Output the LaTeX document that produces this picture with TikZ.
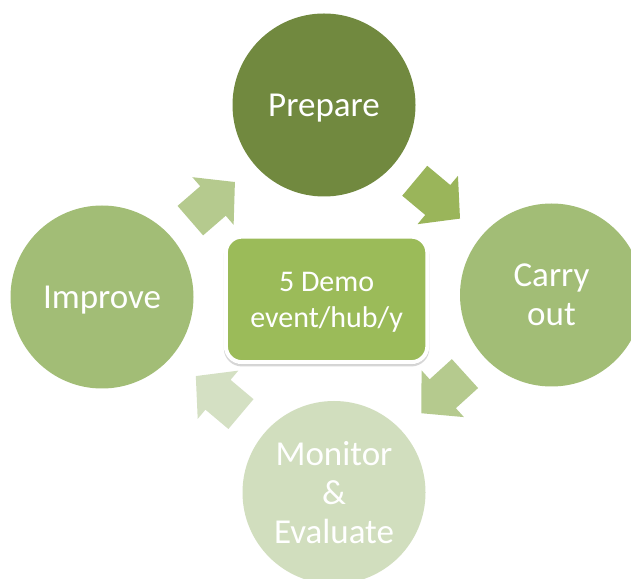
\documentclass[tikz,border=0pt]{standalone}
\usepackage{fontspec}
\setmainfont{Carlito}
\usetikzlibrary{calc}
\definecolor{cprep}{HTML}{71893F}
\definecolor{cmid}{HTML}{A2BD76}
\definecolor{cmon}{HTML}{D1DEBE}
\definecolor{cbox}{HTML}{9BBB59}
\definecolor{arA}{HTML}{9AB55A}
\definecolor{arB}{HTML}{B5CA8E}
\definecolor{arC}{HTML}{D4E0C3}
\tikzset{
  stage/.style={circle, minimum size=183pt, inner sep=0pt, text=white, align=center,
    font=\fontsize{35}{39}\selectfont},
  oneline/.style={text depth=0pt},
  hubbox/.style={rounded corners=16pt, minimum width=201.5pt, minimum height=125.5pt,
    draw=white, line width=4pt, fill=cbox, text=white, align=center,
    font=\fontsize{30}{36}\selectfont},
  blockarrow/.pic={\path[pic actions] (-30,-19.5) -- (0,-19.5) -- (0,-31.5) -- (29,0)
    -- (0,31.5) -- (0,19.5) -- (-30,19.5) -- cycle;}
}
\begin{document}
\begin{tikzpicture}[x=1pt,y=1pt]
\useasboundingbox (0,0) rectangle (631,578);
\clip (0,0) rectangle (631,578);
\fill[white] (0,0) rectangle (631,578);
\node[stage, oneline, fill=cprep] (prep) at (324,473) {Prepare};
\node[stage, fill=cmid] (carry) at (551.5,283) {Carry\\out};
\node[stage, fill=cmon] (monitor) at (334,85.5) {Monitor\\\&\\Evaluate};
\node[stage, oneline, fill=cmid] (improve) at (102,281) {Improve};
\node[hubbox, draw=black!35, fill=black!35, opacity=0.45] (hubshadow) at (326.6,276.3) {};
\node[hubbox, text depth=0pt] (hub) at (326.6,278.6) {5 Demo\\event/hub/y};
\pic[fill=arA, rotate=-39.9] at ($(prep)!0.5!(carry)$) {blockarrow};
\pic[fill=arB, rotate=222.2] at ($(carry)!0.5!(monitor)$) {blockarrow};
\pic[fill=arC, rotate=139.9] at ($(monitor)!0.5!(improve)$) {blockarrow};
\pic[fill=arB, rotate=40.9] at ($(improve)!0.5!(prep)$) {blockarrow};
\end{tikzpicture}
\end{document}
